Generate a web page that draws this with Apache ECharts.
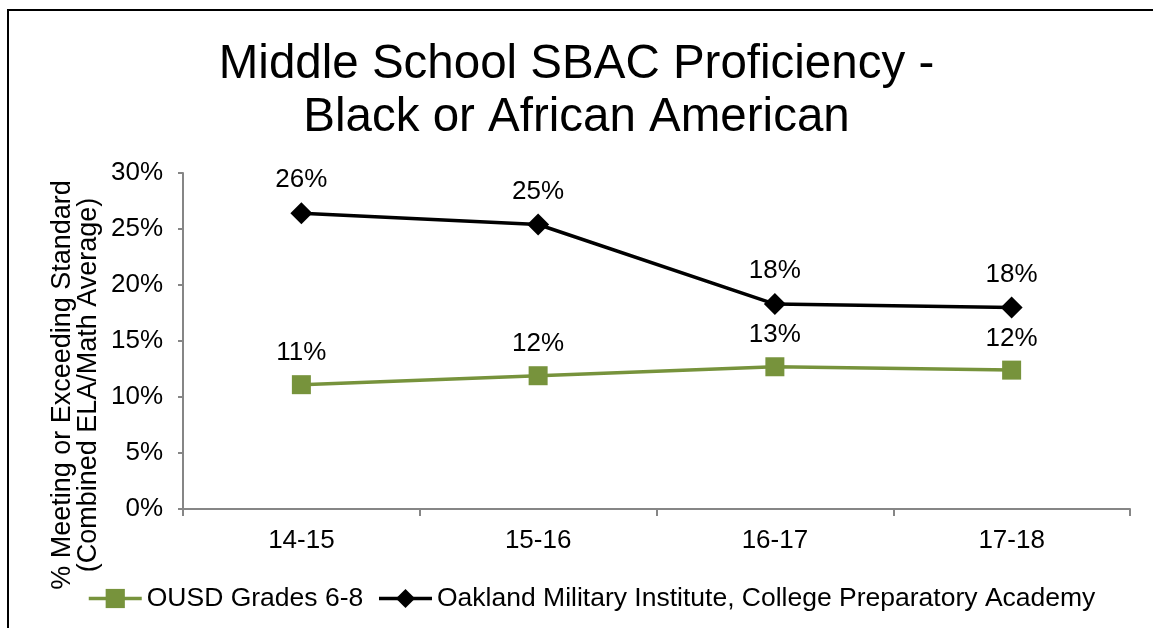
<!DOCTYPE html>
<html>
<head>
<meta charset="utf-8">
<script src="https://cdn.jsdelivr.net/npm/echarts@6/dist/echarts.min.js"></script>
<style>
html,body{margin:0;padding:0;background:#fff;}
#chart{width:1153px;height:628px;}
</style>
</head>
<body>
<div id="chart"></div>
<script>
const categories = ['14-15', '15-16', '16-17', '17-18'];
const ousdValues = [11.1, 11.9, 12.7, 12.4];
const omiValues = [26.4, 25.4, 18.3, 18.0];
const seriesNames = ['OUSD Grades 6-8', 'Oakland Military Institute, College Preparatory Academy'];
const titleText = 'Middle School SBAC Proficiency -\nBlack or African American';
const yAxisTitle = '% Meeting or Exceeding Standard\n(Combined ELA/Math Average)';

const FONT = '"Liberation Sans", Arial, sans-serif';
const chart = echarts.init(document.getElementById('chart'), null, {renderer: 'canvas'});
const labelCfg = {
  show: true, position: 'top', distance: 9,
  color: '#000', fontSize: 26, fontFamily: FONT,
  formatter: p => Math.round(p.value) + '%'
};
chart.setOption({
  animation: false,
  backgroundColor: '#fff',
  title: {
    text: titleText, left: 'center', top: 33,
    textStyle: {fontSize: 47.5, fontWeight: 'normal', color: '#000', fontFamily: FONT, lineHeight: 53}
  },
  grid: {left: 183, right: 23, top: 173, bottom: 119, containLabel: false},
  legend: {
    left: 82, top: 580, itemWidth: 53, itemHeight: 24, itemGap: 14,
    lineStyle: {width: 3.5},
    textStyle: {fontSize: 26.5, color: '#000', fontFamily: FONT},
    data: seriesNames
  },
  xAxis: {
    type: 'category', data: categories, boundaryGap: true,
    axisLine: {lineStyle: {color: '#868686', width: 2}},
    axisTick: {show: true, length: 7, lineStyle: {color: '#868686', width: 2}},
    axisLabel: {color: '#000', fontSize: 26, fontFamily: FONT, margin: 19}
  },
  yAxis: {
    type: 'value', min: 0, max: 30, interval: 5,
    axisLine: {show: true, lineStyle: {color: '#868686', width: 2}},
    axisTick: {show: true, length: 5, lineStyle: {color: '#868686', width: 2}},
    splitLine: {show: false},
    axisLabel: {color: '#000', fontSize: 26, fontFamily: FONT, margin: 20, formatter: '{value}%'}
  },
  series: [
    {
      name: seriesNames[0], type: 'line', data: ousdValues,
      symbol: 'rect', symbolSize: 19,
      lineStyle: {color: '#77933C', width: 3.5},
      itemStyle: {color: '#77933C'},
      label: labelCfg
    },
    {
      name: seriesNames[1], type: 'line', data: omiValues,
      symbol: 'diamond', symbolSize: 22,
      lineStyle: {color: '#000', width: 3.5},
      itemStyle: {color: '#000'},
      label: labelCfg
    }
  ],
  graphic: [
    {type: 'line', shape: {x1: 8, y1: 9, x2: 8, y2: 628}, style: {stroke: '#000', lineWidth: 2}},
    {type: 'line', shape: {x1: 7, y1: 10, x2: 1153, y2: 10}, style: {stroke: '#000', lineWidth: 2}},
    {
      type: 'text', x: 76, y: 385, rotation: Math.PI / 2,
      style: {text: yAxisTitle, fontSize: 27, fontFamily: FONT, fill: '#000', align: 'center', verticalAlign: 'middle', lineHeight: 26}
    }
  ]
});
</script>
</body>
</html>
